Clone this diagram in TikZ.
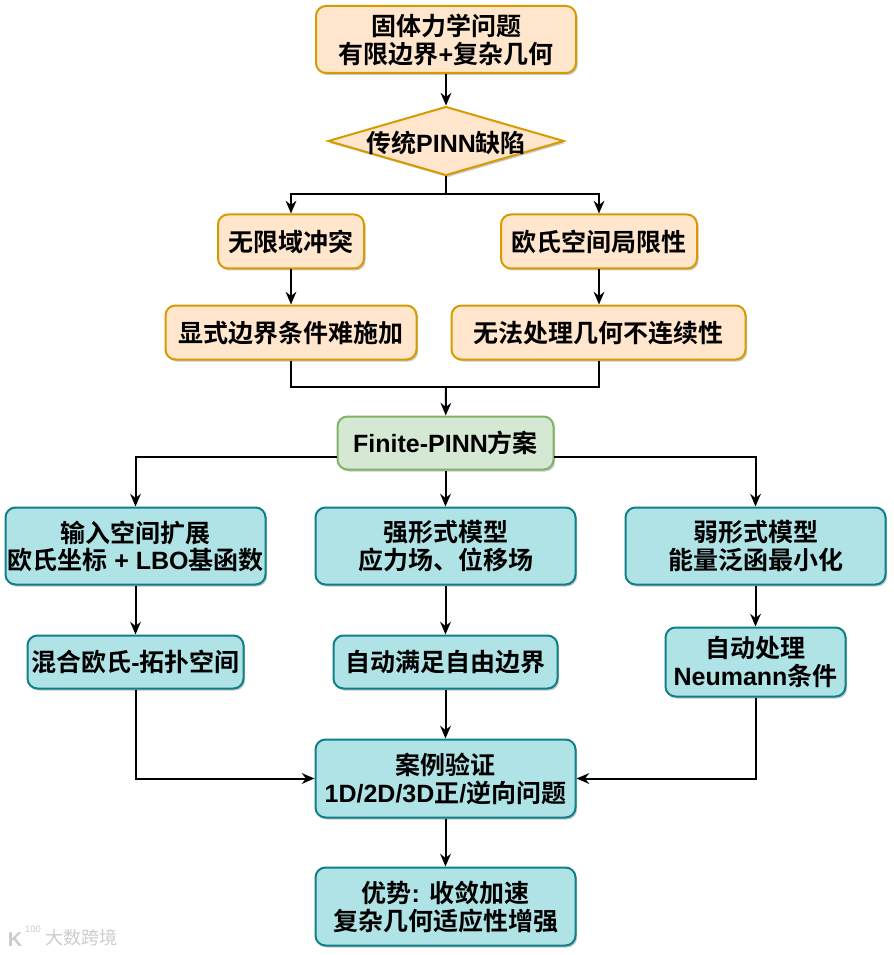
\documentclass[tikz,border=0pt]{standalone}
\usepackage{fontspec}
\setmainfont{Liberation Sans}
\newfontfamily\cjk[BoldFont={Noto Sans CJK SC Bold}]{Noto Sans CJK SC}
\newcommand{\zh}[1]{{\cjk #1}}
\newcommand{\tx}[1]{\raisebox{-2.5pt}[\height][\depth]{\begin{tabular}{@{}c@{}}#1\end{tabular}}}
\newcommand{\txd}[1]{\raisebox{-6pt}[9pt][3pt]{#1}}
\usetikzlibrary{shapes.geometric,arrows.meta,shadows}
\definecolor{orF}{HTML}{FFE6CC}\definecolor{orD}{HTML}{D79B00}
\definecolor{grF}{HTML}{D5E8D4}\definecolor{grD}{HTML}{82B366}
\definecolor{teF}{HTML}{B0E3E6}\definecolor{teD}{HTML}{0E8088}
\tikzset{
  x=0.75pt,y=-0.75pt,
  softshadow/.style={drop shadow={shadow xshift=1.2pt,shadow yshift=-1.5pt,opacity=.22,fill=black}},
  boxbase/.style={rectangle,rounded corners=7.5pt,line width=1.5pt,inner sep=0pt,
    font=\fontsize{18.75}{21}\selectfont\bfseries,softshadow},
  orbox/.style={boxbase,fill=orF,draw=orD},
  grbox/.style={boxbase,fill=grF,draw=grD},
  tebox/.style={boxbase,fill=teF,draw=teD},
  sz/.style n args={2}{minimum width=#1*0.75pt,minimum height=#2*0.75pt},
  orhex/.style={diamond,aspect=3.45,inner sep=0pt,fill=orF,draw=orD,line width=1.5pt,
    font=\fontsize{18.75}{21}\selectfont\bfseries,softshadow},
  arr/.style={line width=1.5pt,draw=black,-{Stealth[length=9.5pt,width=8pt]}},
  conn/.style={line width=1.5pt,draw=black},
  wmtext/.style={text=black!20,inner sep=0pt}
}
\begin{document}
\begin{tikzpicture}
\useasboundingbox (0,0) rectangle (893,955);
\fill[white] (0,0) rectangle (893,955);
\node[orbox,sz={260}{67}] (top) at (446,39.5) {\tx{\zh{固体力学问题}\\[-1.5pt]\zh{有限边界}+\zh{复杂几何}}};
\node[orhex,minimum width=177pt,minimum height=51.7pt] (d) at (446,141) {\txd{\zh{传统}PINN\zh{缺陷}}};
\node[orbox,sz={146}{54}] (a) at (291,241.5) {\tx{\zh{无限域冲突}}};
\node[orbox,sz={196}{54}] (b) at (599,241.5) {\tx{\zh{欧氏空间局限性}}};
\node[orbox,sz={251}{54}] (c) at (291,332.5) {\tx{\zh{显式边界条件难施加}}};
\node[orbox,sz={294}{54}] (e) at (598.5,332.5) {\tx{\zh{无法处理几何不连续性}}};
\node[grbox,sz={216}{53}] (f) at (445.5,443) {\tx{Finite-PINN\zh{方案}}};
\node[tebox,sz={260}{77}] (g) at (135.5,546) {\tx{\zh{输入空间扩展}\\[-1.5pt]\zh{欧氏坐标} + LBO\zh{基函数}}};
\node[tebox,sz={260}{77}] (h) at (445.5,546) {\tx{\zh{强形式模型}\\[-1.5pt]\zh{应力场、位移场}}};
\node[tebox,sz={260}{77}] (i) at (755.5,546) {\tx{\zh{弱形式模型}\\[-1.5pt]\zh{能量泛函最小化}}};
\node[tebox,sz={216}{53}] (j) at (135.5,662) {\tx{\zh{混合欧氏}-\zh{拓扑空间}}};
\node[tebox,sz={224}{53}] (k) at (445.5,662) {\tx{\zh{自动满足自由边界}}};
\node[tebox,sz={180}{69}] (l) at (755.5,662) {\tx{\zh{自动处理}\\[-1.5pt]Neumann\zh{条件}}};
\node[tebox,sz={260}{78}] (m) at (445.5,778.5) {\tx{\zh{案例验证}\\[-1.5pt]1D/2D/3D\zh{正}/\zh{逆向问题}}};
\node[tebox,sz={260}{78}] (n) at (445.5,906.5) {\tx{\zh{优势}: \zh{收敛加速}\\[-1.5pt]\zh{复杂几何适应性增强}}};
\coordinate (split) at (446,194);
\coordinate (merge) at (446,387);
\coordinate (fl) at (337,457);
\coordinate (fr) at (554,457);
\draw[arr] (top) -- (d);
\draw[conn] (d) -- (split);
\draw[arr] (split) -| (a.north);
\draw[arr] (split) -| (b.north);
\draw[arr] (a) -- (a|-c.north);
\draw[arr] (b) -- (b|-e.north);
\draw[conn] (c) |- (merge);
\draw[conn] (e) |- (merge);
\draw[arr] (merge) -- (f);
\draw[arr] (fl) -| (g.north);
\draw[arr] (fr) -| (i.north);
\draw[arr] (f) -- (h);
\draw[arr] (g) -- (j);
\draw[arr] (h) -- (k);
\draw[arr] (i) -- (l);
\draw[arr] (k) -- (m);
\draw[arr] (j) |- (m);
\draw[arr] (l) |- (m);
\draw[arr] (m) -- (n);
\node[wmtext,font=\fontsize{13.5}{15}\selectfont\cjk] (wm) at (81,938) {大数跨境};
\node[wmtext,font=\fontsize{15}{15}\selectfont\bfseries] (wk) at (15,940) {K};
\node[wmtext,font=\fontsize{7}{8}\selectfont] (wn) at (33,929) {100};
\end{tikzpicture}
\end{document}
